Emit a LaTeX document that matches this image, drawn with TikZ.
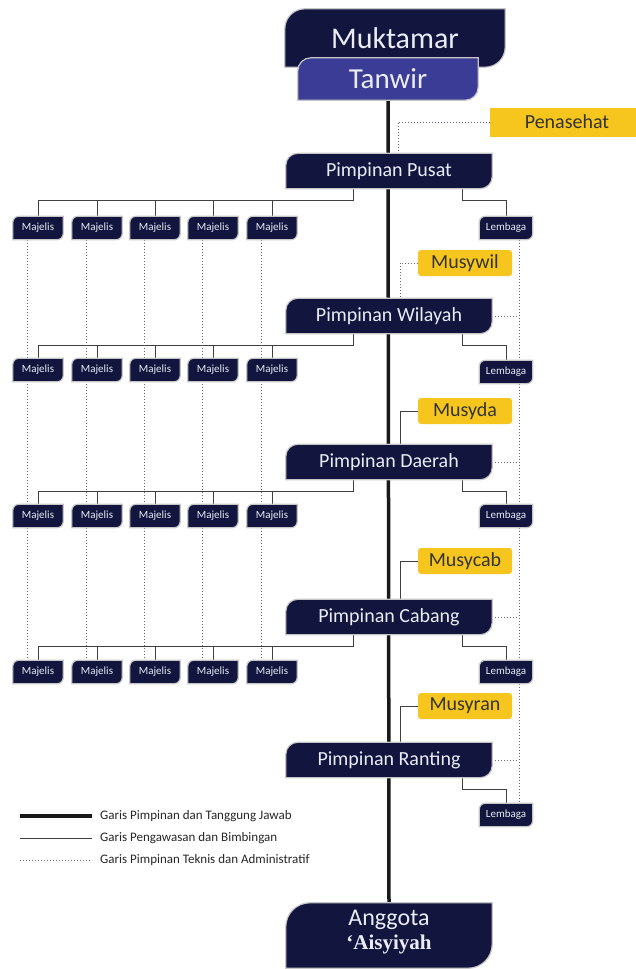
\documentclass[tikz,border=0pt]{standalone}
\usepackage{fontspec}
\setmainfont{Carlito}
\newfontfamily\timesb{Liberation Serif}
\usepackage{tikz}
\usetikzlibrary{calc}
\pgfdeclarelayer{back}
\pgfdeclarelayer{background}
\pgfsetlayers{back,background,main}

\definecolor{navy}{RGB}{18,22,63}
\definecolor{tanwirblue}{RGB}{58,60,150}
\definecolor{musyyellow}{RGB}{246,198,30}
\definecolor{dotgray}{RGB}{105,100,128}
\definecolor{boxtext}{RGB}{235,237,245}

% box with rounded top-left and bottom-right corners
\newcommand{\leafshape}[3]{%
  \fill[#3,draw=gray!45,line width=1.2pt] (#1.south west) -- ($(#1.north west)+(0,-#2)$)
    arc[start angle=180,end angle=90,radius=#2] -- (#1.north east) -- ($(#1.south east)+(0,#2)$)
    arc[start angle=0,end angle=-90,radius=#2] -- cycle;}

\tikzset{
  pimp/.style={minimum width=206pt,minimum height=35pt,inner sep=0pt,text=boxtext,font=\fontsize{20}{22}\selectfont},
  majelis/.style={minimum width=50pt,minimum height=23pt,inner sep=0pt,text=boxtext,font=\fontsize{11}{12}\selectfont},
  lembaga/.style={majelis,minimum width=53pt},
  musy/.style={fill=musyyellow,rounded corners=3pt,minimum width=94pt,minimum height=26pt,inner sep=0pt,text=black!80,font=\fontsize{20}{22}\selectfont},
  lead/.style={line width=3.5pt,black!90},
  guide/.style={line width=1pt,black!75},
  tech/.style={dotted,line width=1pt,dotgray},
  legend/.style={anchor=west,inner sep=0pt,text=black!85,font=\fontsize{13}{15}\selectfont}
}

\begin{document}
\begin{tikzpicture}[x=1pt,y=1pt]
    \useasboundingbox (0,0) rectangle (636,-969);

    \node[minimum width=220pt,minimum height=58pt,inner sep=0pt,text=boxtext,font=\fontsize{30}{32}\selectfont] (muk) at (395,-38) {\raisebox{-2pt}{Muktamar}};
    \node[minimum width=180pt,minimum height=42pt,inner sep=0pt,text=boxtext,font=\fontsize{29}{31}\selectfont] (tan) at (388,-79) {Tanwir};
    \node[fill=musyyellow,minimum width=146pt,minimum height=29pt,inner sep=0pt,text=black!80,font=\fontsize{20}{22}\selectfont] (pen) at (563,-122) {\hspace{8pt}Penasehat};

    \node[pimp](pp) at (389,-171){Pimpinan Pusat};
    \node[pimp](pw) at (389,-316){Pimpinan Wilayah};
    \node[pimp](pd) at (389,-462){Pimpinan Daerah};
    \node[pimp](pc) at (389,-617){Pimpinan Cabang};
    \node[pimp](pr) at (389,-760){Pimpinan Ranting};

    \node[musy](mw) at (465,-263){Musywil};
    \node[musy](md) at (465,-411){Musyda};
    \node[musy](mc) at (465,-561){Musycab};
    \node[musy](mr) at (465,-706){Musyran};

    \foreach \r/\y in {1/228,2/370,3/516,4/672}
      \foreach \c/\x in {1/38,2/97,3/155,4/213,5/272}
        \node[majelis] (m\r\c) at (\x,-\y) {Majelis};
    \foreach \r/\y in {1/228,2/372,3/516,4/672,5/815}
      \node[lembaga] (l\r) at (506,-\y) {Lembaga};

    \node[minimum width=206pt,minimum height=65pt,inner sep=0pt] (ang) at (389,-935.5) {};
    \node[inner sep=0pt,text=boxtext,font=\fontsize{24}{26}\selectfont] (angA) at (389,-920) {Anggota};
    \node[inner sep=0pt,text=boxtext,font=\timesb\bfseries\fontsize{21}{22}\selectfont] (angB) at (389,-944) {\textquoteleft Aisyiyah};

    % legend
    \node[legend](g1) at (100,-816){Garis Pimpinan dan Tanggung Jawab};
    \node[legend](g2) at (100,-838){Garis Pengawasan dan Bimbingan};
    \node[legend](g3) at (100,-860){Garis Pimpinan Teknis dan Administratif};
    \coordinate (g1a) at (20,-816);
    \coordinate (g2a) at (20,-838);
    \coordinate (g3a) at (20,-860);
    \draw[lead] (g1a) -- ([xshift=-8pt]g1.west);
    \draw[guide] (g2a) -- ([xshift=-8pt]g2.west);
    \draw[tech] (g3a) -- ([xshift=-8pt]g3.west);

    \begin{pgfonlayer}{background}
      \leafshape{muk}{20pt}{navy}
      \leafshape{tan}{13pt}{tanwirblue}
      \foreach \p in {pp,pw,pd,pc,pr} {\leafshape{\p}{12pt}{navy}}
      \foreach \r in {1,...,4} {\foreach \c in {1,...,5} {\leafshape{m\r\c}{6pt}{navy}}}
      \foreach \r in {1,...,5} {\leafshape{l\r}{6pt}{navy}}
      \leafshape{ang}{24pt}{navy}
    \end{pgfonlayer}

    \begin{pgfonlayer}{back}
      \draw[lead] (tan.south) -- (ang.north);

      % majelis lines
      \foreach \p/\r in {pp/1,pw/2,pd/3,pc/4} {
        \draw[guide] ([xshift=-36pt]\p.south) -- ++(0,-12) coordinate (j\r) -| (m\r1.north);
        \foreach \c in {2,...,5} \draw[guide] (m\r\c.north) -- (m\r\c.north |- j\r);
      }
      % lembaga lines
      \foreach \p/\r in {pp/1,pw/2,pd/3,pc/4,pr/5}
        \draw[guide] ([xshift=73pt]\p.south) -- ++(0,-12) -| (l\r.north);

      % musyawarah
      \draw[tech] (pen.west) -| ([xshift=9pt]pp.north);
      \draw[tech] (mw.west) -| ([xshift=11pt]pw.north);
      \draw[guide] (md.west) -| ([xshift=11pt]pd.north);
      \draw[guide] (mc.west) -| ([xshift=11pt]pc.north);
      \draw[guide] (mr.west) -| ([xshift=11pt]pr.north);

      % teknis
      \coordinate (lv) at ([xshift=13pt]l1.south);
      \draw[tech] (lv) -- ([xshift=13pt]l5.north);
      \foreach \p in {pw,pd,pc,pr} \draw[tech] (\p.east) -- (\p.east -| lv);
      \foreach \c in {1,...,5} \draw[tech] ([xshift=-11pt]m1\c.south) -- ([xshift=-11pt]m4\c.north);
    \end{pgfonlayer}

\end{tikzpicture}
\end{document}
